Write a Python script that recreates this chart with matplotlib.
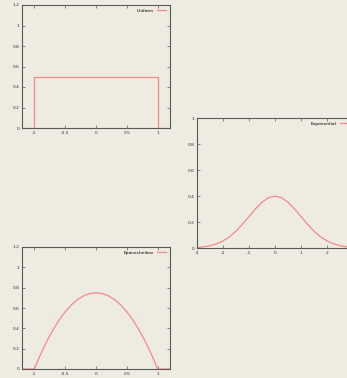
import matplotlib
matplotlib.use("Agg")
import matplotlib.pyplot as plt

# Uniform kernel
uni_x = [-1.2, -1.0, -1.0, 1.0, 1.0, 1.2]
uni_y = [0.0, 0.0, 0.5, 0.5, 0.0, 0.0]

# Gaussian ("Exponential") kernel values
exp_x = [-3.0, -2.75, -2.5, -2.25, -2.0, -1.75, -1.5, -1.25, -1.0, -0.75, -0.5, -0.25, 0.0,
         0.25, 0.5, 0.75, 1.0, 1.25, 1.5, 1.75, 2.0, 2.25, 2.5, 2.75, 3.0]
exp_y = [0.004, 0.009, 0.018, 0.032, 0.054, 0.086, 0.130, 0.183, 0.242, 0.301, 0.352, 0.387, 0.399,
         0.387, 0.352, 0.301, 0.242, 0.183, 0.130, 0.086, 0.054, 0.032, 0.018, 0.009, 0.004]

# Epanechnikov kernel values
epa_x = [-1.2, -1.0, -0.9, -0.8, -0.7, -0.6, -0.5, -0.4, -0.3, -0.2, -0.1, 0.0,
         0.1, 0.2, 0.3, 0.4, 0.5, 0.6, 0.7, 0.8, 0.9, 1.0, 1.2]
epa_y = [0.0, 0.0, 0.1425, 0.27, 0.3825, 0.48, 0.5625, 0.63, 0.6825, 0.72, 0.7425, 0.75,
         0.7425, 0.72, 0.6825, 0.63, 0.5625, 0.48, 0.3825, 0.27, 0.1425, 0.0, 0.0]

kern_xticks = [-1, -0.5, 0, 0.5, 1]
kern_xlabels = ["-1", "-0.5", "0", "0.5", "1"]
kern_yticks = [0, 0.2, 0.4, 0.6, 0.8, 1.0, 1.2]
kern_ylabels = ["0", "0.2", "0.4", "0.6", "0.8", "1", "1.2"]
exp_xticks = [-3, -2, -1, 0, 1, 2]
exp_xlabels = ["-3", "-2", "-1", "0", "1", "2"]
exp_yticks = [0, 0.2, 0.4, 0.6, 0.8, 1.0]
exp_ylabels = ["0", "0.2", "0.4", "0.6", "0.8", "1"]

BG = "#eeebe0"
LINE = "#f28a8a"
BORDER = "#5a5a5a"
FS = 3.2

W, H = 347, 378
fig = plt.figure(figsize=(W / 100, H / 100), dpi=100, facecolor=BG)

def px_axes(left, top, right, bottom):
    return fig.add_axes([left / W, 1 - bottom / H, (right - left) / W, (bottom - top) / H])

def style(ax, xt, xl, yt, yl, xlim, ylim):
    ax.set_facecolor(BG)
    ax.set_xlim(*xlim)
    ax.set_ylim(*ylim)
    ax.set_xticks(xt)
    ax.set_xticklabels(xl)
    ax.set_yticks(yt)
    ax.set_yticklabels(yl)
    ax.tick_params(direction="in", length=2.5, width=0.5, color=BORDER,
                   labelsize=FS, labelcolor="#333333", pad=2,
                   top=True, right=True)
    for s in ax.spines.values():
        s.set_color(BORDER)
        s.set_linewidth(0.8)

def legend(ax):
    leg = ax.legend(loc="upper right", frameon=False, fontsize=FS, markerfirst=False,
                    handlelength=2.2, handletextpad=0.6, borderaxespad=0.4)
    return leg

ax1 = px_axes(22, 5, 170, 128)
ax1.plot(uni_x, uni_y, color=LINE, lw=0.9, label="Uniform")
style(ax1, kern_xticks, kern_xlabels, kern_yticks, kern_ylabels, (-1.2, 1.2), (0, 1.2))
legend(ax1)

ax2 = px_axes(197, 118, 353, 248)
ax2.plot(exp_x, exp_y, color=LINE, lw=0.9, label="Exponential")
style(ax2, exp_xticks, exp_xlabels, exp_yticks, exp_ylabels, (-3, 3), (0, 1))
legend(ax2)

ax3 = px_axes(22, 247, 170, 369)
ax3.plot(epa_x, epa_y, color=LINE, lw=0.9, label="Epanechnikov")
style(ax3, kern_xticks, kern_xlabels, kern_yticks, kern_ylabels, (-1.2, 1.2), (0, 1.2))
legend(ax3)

fig.savefig("out.png", dpi=100, facecolor=BG)
